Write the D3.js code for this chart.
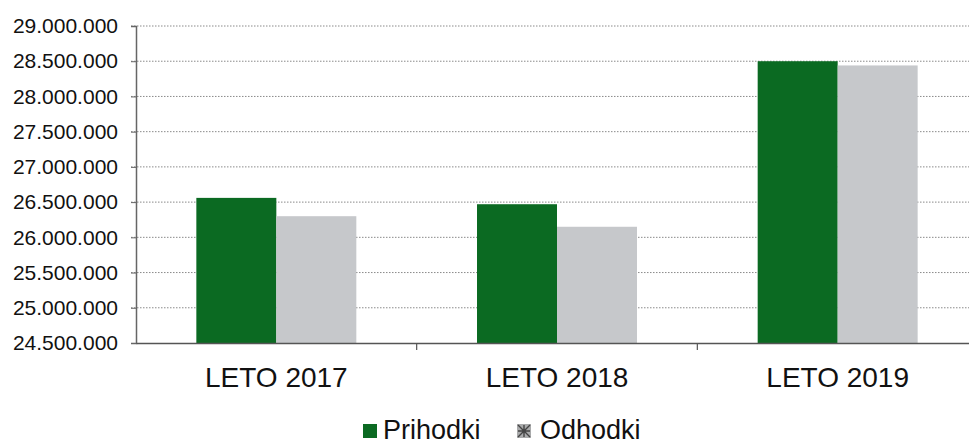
<!DOCTYPE html>
<html><head><meta charset="utf-8">
<script src="https://cdn.jsdelivr.net/npm/d3@7"></script>
<style>html,body{margin:0;padding:0;background:#fff;}svg{display:block;font-family:"Liberation Sans",Arial,sans-serif;}</style>
</head><body>
<svg id="c" width="969" height="446"></svg>
<script>
const categories = ["LETO 2017", "LETO 2018", "LETO 2019"];
const seriesNames = ["Prihodki", "Odhodki"];
const prihodki = [26560000, 26470000, 28500000];
const odhodki = [26300000, 26150000, 28440000];
const yTicks = [24500000, 25000000, 25500000, 26000000, 26500000, 27000000, 27500000, 28000000, 28500000, 29000000];
const colors = ["#0b6a22", "#c6c8cb"];

(function () {
const svg = d3.select("#c");
const mLeft = 136, mRight = 978, mTop = 26, mBottom = 343;

const x = d3.scaleBand().domain(categories).range([mLeft, mRight]).paddingInner(0.43).paddingOuter(0.215);
const xStep = d3.scaleBand().domain(categories).range([mLeft, mRight]);
const xs = d3.scaleBand().domain(seriesNames).range([0, x.bandwidth()]);
const y = d3.scaleLinear().domain([24500000, 29000000]).range([mBottom, mTop]);
const fmt = v => d3.format(",")(v).replace(/,/g, ".");

// gridlines
svg.append("g").selectAll("line").data(yTicks.slice(1)).join("line")
  .attr("x1", mLeft - 5).attr("x2", 969)
  .attr("y1", d => y(d)).attr("y2", d => y(d))
  .attr("stroke", "#8a8a8a").attr("stroke-width", 1).attr("stroke-dasharray", "1.5,1.5");

// y axis
const ya = svg.append("g").attr("transform", `translate(${mLeft},0)`)
  .call(d3.axisLeft(y).tickValues(yTicks).tickFormat(fmt).tickSize(5).tickPadding(13));
ya.select(".domain").attr("stroke", "#666").attr("stroke-width", 1.5);
ya.selectAll(".tick line").attr("stroke", "#666");
ya.selectAll("text").attr("font-size", 21).attr("fill", "#111").attr("font-family", "Liberation Sans, Arial, sans-serif");

// bars
const data = categories.map((c, i) => ({cat: c, vals: [prihodki[i], odhodki[i]]}));
const g = svg.append("g").selectAll("g").data(data).join("g")
  .attr("transform", d => `translate(${x(d.cat)},0)`);
g.selectAll("rect").data(d => d.vals.map((v, j) => ({s: seriesNames[j], v, j}))).join("rect")
  .attr("x", d => xs(d.s)).attr("width", xs.bandwidth())
  .attr("y", d => y(d.v)).attr("height", d => mBottom - y(d.v))
  .attr("fill", d => colors[d.j]);

// x axis
const xa = svg.append("g").attr("transform", `translate(0,${mBottom})`)
  .call(d3.axisBottom(xStep).tickSize(0).tickPadding(24));
xa.select(".domain").attr("stroke", "#555").attr("stroke-width", 1.5);
xa.selectAll("text").attr("font-size", 28).attr("fill", "#111").attr("font-family", "Liberation Sans, Arial, sans-serif");
// boundary ticks between categories
svg.append("g").selectAll("line").data(categories.slice(1)).join("line")
  .attr("x1", d => xStep(d)).attr("x2", d => xStep(d))
  .attr("y1", mBottom).attr("y2", mBottom + 7)
  .attr("stroke", "#555").attr("stroke-width", 1.2);

// legend
const legendX = [363, 517];
const lg = svg.append("g").selectAll("g").data(seriesNames).join("g")
  .attr("transform", (d, i) => `translate(${legendX[i]},0)`);
lg.append("rect").attr("x", 0).attr("y", 424).attr("width", 14).attr("height", 14)
  .attr("fill", (d, i) => i === 0 ? colors[0] : "#a9aaab");
lg.filter((d, i) => i === 1).append("path")
  .attr("d", "M1,1L13,13M13,1L1,13M7,1L7,13M1,7L13,7")
  .attr("transform", "translate(0,424)")
  .attr("stroke", "#444").attr("stroke-width", 1.4).attr("fill", "none");
lg.append("text").attr("x", (d, i) => i === 0 ? 20 : 23).attr("y", 439)
  .attr("font-size", 27).attr("fill", "#111").text(d => d);
})();
</script>
</body></html>
